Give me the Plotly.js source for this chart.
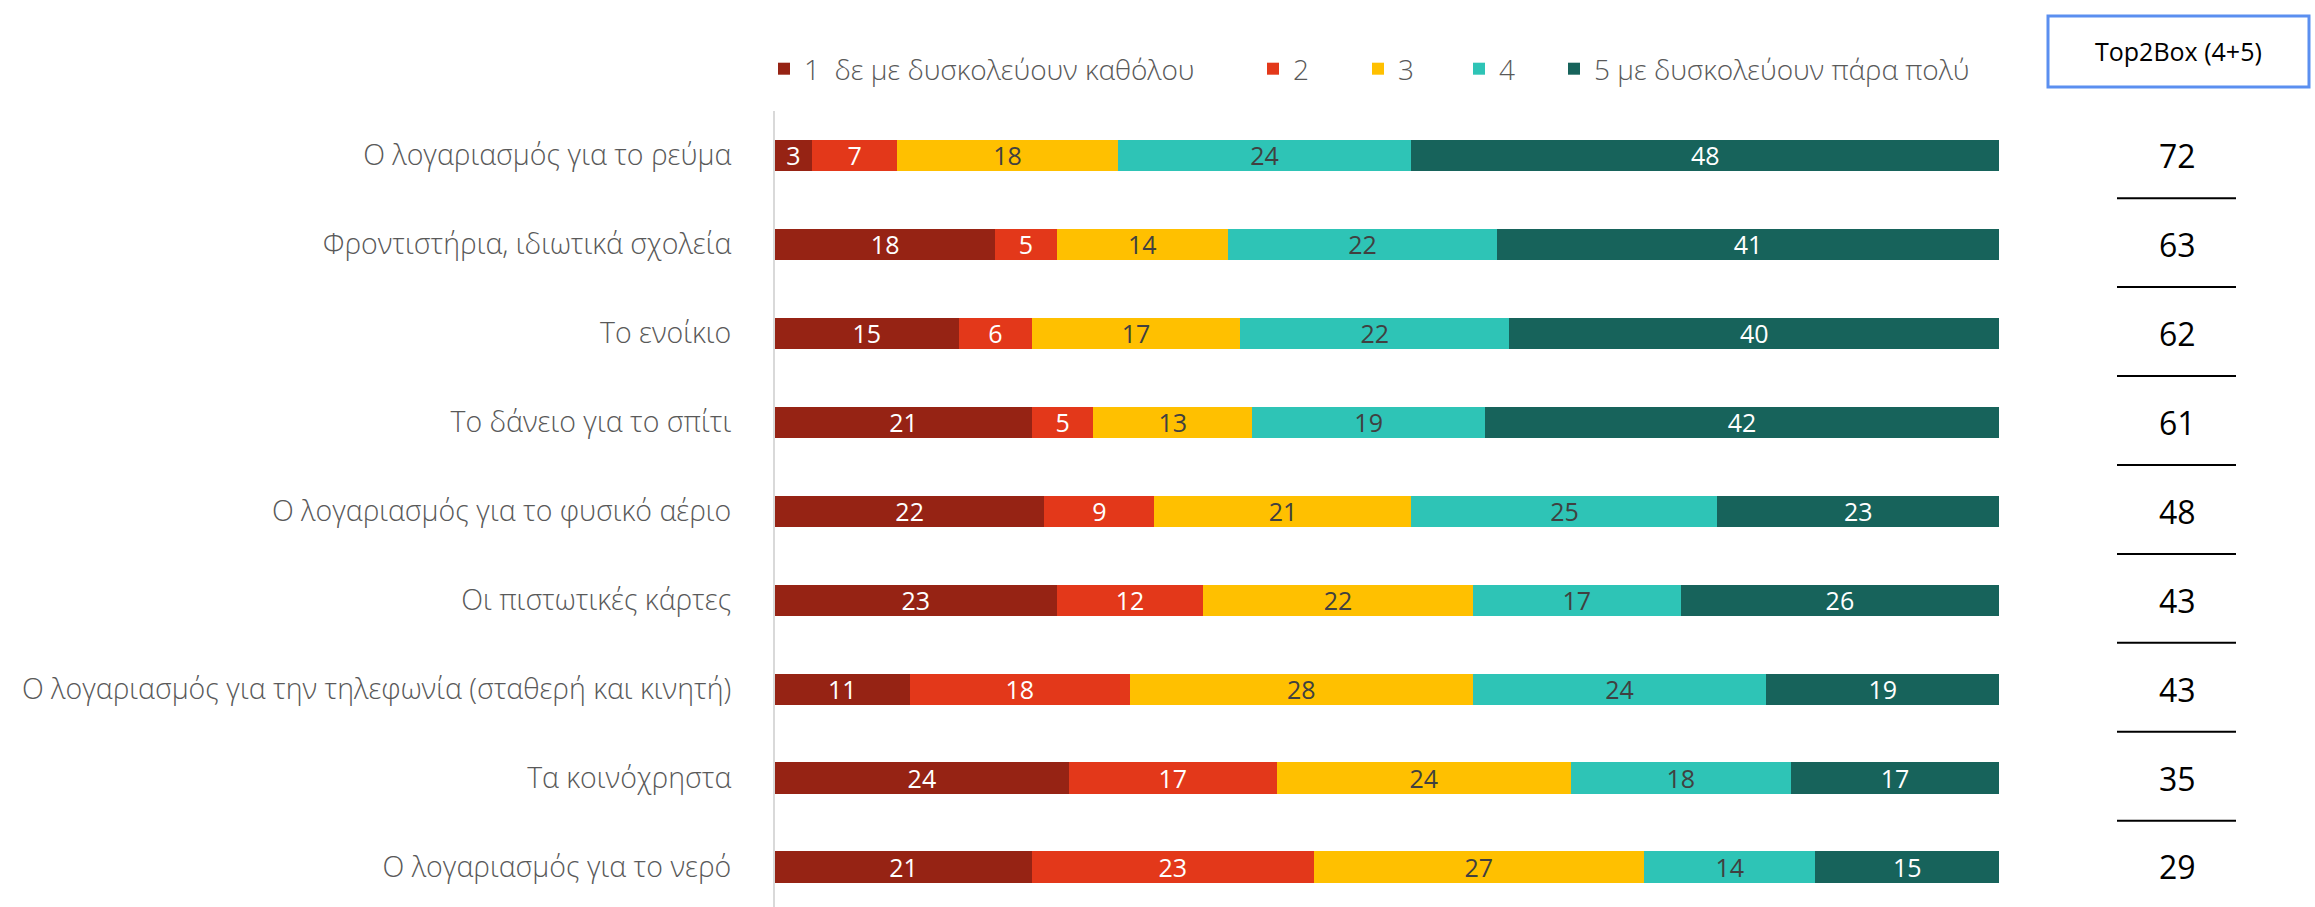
<!DOCTYPE html>
<html>
<head>
<meta charset="utf-8">
<script src="https://cdn.plot.ly/plotly-3.0.1.min.js"></script>
<style>html,body{margin:0;padding:0;background:#fff;}#chart{width:2315px;height:907px;}</style>
</head>
<body>
<div id="chart"></div>
<script>
const categories = [
  "Ο λογαριασμός για το ρεύμα",
  "Φροντιστήρια, ιδιωτικά σχολεία",
  "Το ενοίκιο",
  "Το δάνειο για το σπίτι",
  "Ο λογαριασμός για το φυσικό αέριο",
  "Οι πιστωτικές κάρτες",
  "Ο λογαριασμός για την τηλεφωνία (σταθερή και κινητή)",
  "Τα κοινόχρηστα",
  "Ο λογαριασμός για το νερό"
];
const seriesNames = ["1\u00a0 δε με δυσκολεύουν καθόλου", "2", "3", "4", "5 με δυσκολεύουν πάρα πολύ"];
const s1 = [3, 18, 15, 21, 22, 23, 11, 24, 21];
const s2 = [7, 5, 6, 5, 9, 12, 18, 17, 23];
const s3 = [18, 14, 17, 13, 21, 22, 28, 24, 27];
const s4 = [24, 22, 22, 19, 25, 17, 24, 18, 14];
const s5 = [48, 41, 40, 42, 23, 26, 19, 17, 15];
const top2 = [72, 63, 62, 61, 48, 43, 43, 35, 29];
const top2Header = "Top2Box (4+5)";

const colors = ["#962314", "#E3381A", "#FFC000", "#2EC4B6", "#17635B"];
const labelColors = ["#ffffff", "#ffffff", "#404040", "#404040", "#ffffff"];
const FONT = "'Open Sans', 'Noto Sans', sans-serif";

const W = 2315, H = 907;
const mL = 775, mT = 111;
const plotW = W - mL, plotH = H - mT;
const px2x = p => (p - mL) / plotW;
const px2y = p => (H - p) / plotH;

const allSeries = [s1, s2, s3, s4, s5];
const legendLeft = [784, 1273, 1378, 1479, 1574];

const traces = allSeries.map((vals, i) => ({
  type: "bar",
  orientation: "h",
  name: seriesNames[i],
  x: vals,
  y: categories,
  marker: {color: colors[i], line: {width: 0}},
  texttemplate: "%{x}",
  textposition: "inside",
  insidetextanchor: "middle",
  constraintext: "none",
  textangle: 0,
  textfont: {family: FONT, size: 25, color: labelColors[i]},
  hoverinfo: "skip",
  legend: i === 0 ? "legend" : "legend" + (i + 1)
}));

const legendBase = {
  orientation: "h",
  yanchor: "middle",
  xanchor: "left",
  y: px2y(69),
  font: {family: FONT, size: 28, color: "#595959", weight: 300},
  bgcolor: "rgba(0,0,0,0)",
  borderwidth: 0,
  itemclick: false
};

const layout = {
  width: W, height: H,
  margin: {l: mL, r: 0, t: mT, b: 0, pad: 0},
  paper_bgcolor: "#ffffff",
  plot_bgcolor: "#ffffff",
  barmode: "stack",
  bargap: 0.65,
  showlegend: true,
  font: {family: FONT},
  xaxis: {domain: [0, px2x(1999)], range: [0, 100], visible: false, fixedrange: true},
  yaxis: {
    type: "category",
    categoryorder: "array",
    categoryarray: categories,
    range: [8.45, -0.5],
    showline: true, linecolor: "#D9D9D9", linewidth: 2,
    showgrid: false, zeroline: false,
    ticks: "",
    ticklabelstandoff: 36,
    tickfont: {family: FONT, size: 28.5, color: "#595959", weight: 300}
  },
  shapes: [],
  annotations: []
};

for (let i = 0; i < 5; i++) {
  const key = i === 0 ? "legend" : "legend" + (i + 1);
  layout[key] = Object.assign({}, legendBase, {x: px2x(legendLeft[i] - 20)});
}

// Top2Box header
layout.shapes.push({
  type: "rect", xref: "paper", yref: "paper",
  x0: px2x(2048), x1: px2x(2309), y0: px2y(87), y1: px2y(16),
  line: {color: "#5B8FF0", width: 3}, fillcolor: "rgba(0,0,0,0)"
});
layout.annotations.push({
  xref: "paper", yref: "paper", x: px2x(2178), y: px2y(51),
  text: top2Header, showarrow: false,
  font: {family: FONT, size: 25, color: "#000000"},
  xanchor: "center", yanchor: "middle"
});

top2.forEach((v, i) => {
  layout.annotations.push({
    xref: "paper", yref: "y", x: px2x(2177), y: categories[i],
    text: String(v), showarrow: false,
    font: {family: FONT, size: 32, color: "#000000"},
    xanchor: "center", yanchor: "middle"
  });
  if (i < top2.length - 1) {
    layout.shapes.push({
      type: "line", xref: "paper", yref: "y",
      x0: px2x(2117), x1: px2x(2236), y0: i + 0.48, y1: i + 0.48,
      line: {color: "#000000", width: 2}
    });
  }
});

Plotly.newPlot("chart", traces, layout, {displayModeBar: false, staticPlot: true});
</script>
</body>
</html>
